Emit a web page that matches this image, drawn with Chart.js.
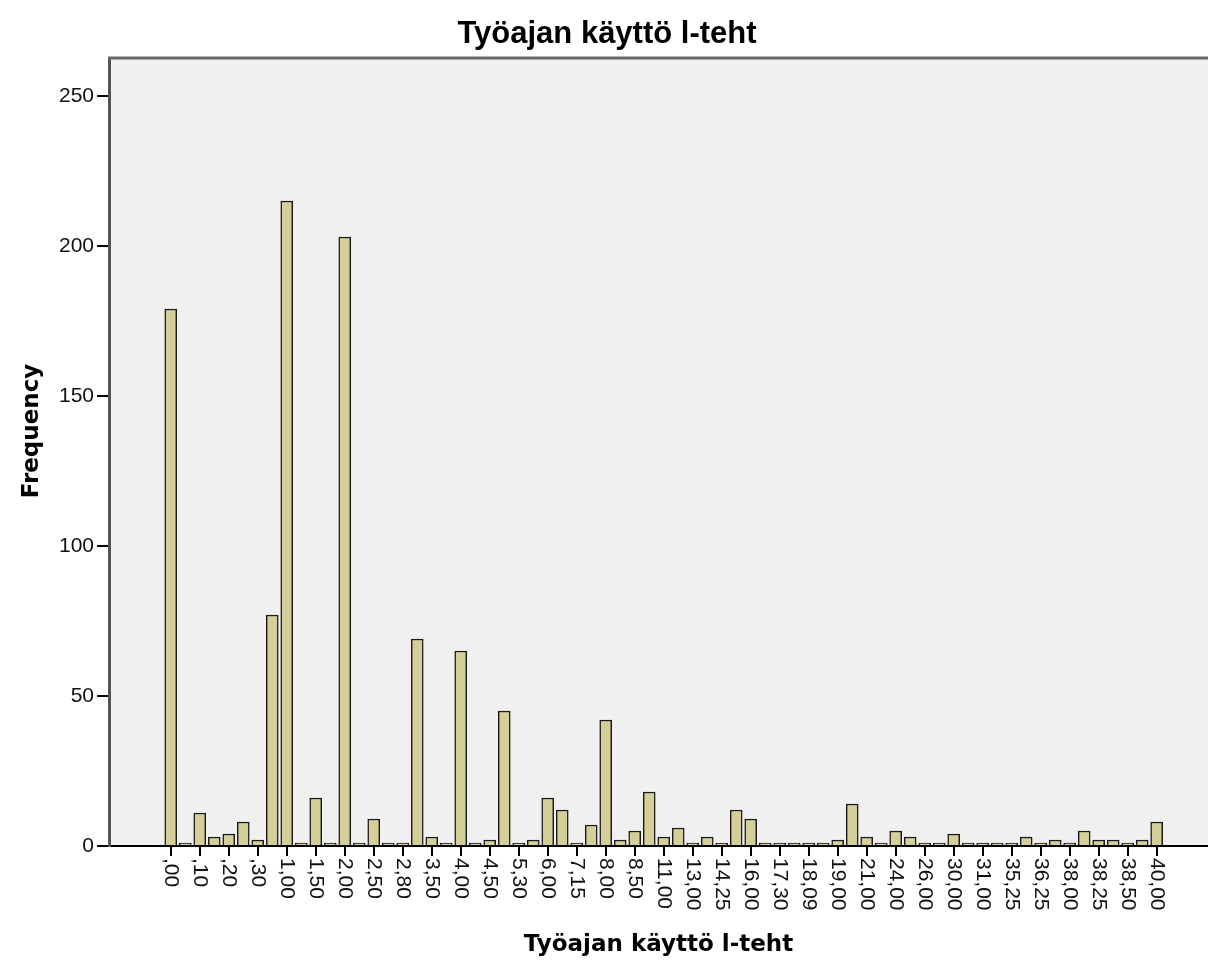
<!DOCTYPE html>
<html lang="fi">
<head>
<meta charset="utf-8">
<script src="https://cdn.jsdelivr.net/npm/chart.js"></script>
<style>
  body { margin: 0; background: #fff; }
  #wrap { width: 1208px; height: 960px; }
</style>
</head>
<body>
<div id="wrap">
  <canvas id="freqChart" width="1208" height="960"></canvas>
</div>

<script>
    // values, one per bar (every other bar carries a label)
    const frequencies = [179, 1, 11, 3, 4, 8, 2, 77, 215, 1, 16, 1, 203, 1, 9, 1, 1, 69, 3, 1,
      65, 1, 2, 45, 1, 2, 16, 12, 1, 7, 42, 2, 5, 18, 3, 6, 1, 3, 1, 12,
      9, 1, 1, 1, 1, 1, 2, 14, 3, 1, 5, 3, 1, 1, 4, 1, 1, 1, 1, 3,
      1, 2, 1, 5, 2, 2, 1, 2, 8];
    const tickLabels = [',00', ',10', ',20', ',30', '1,00', '1,50', '2,00', '2,50', '2,80', '3,50',
      '4,00', '4,50', '5,30', '6,00', '7,15', '8,00', '8,50', '11,00', '13,00', '14,25',
      '16,00', '17,30', '18,09', '19,00', '21,00', '24,00', '26,00', '30,00', '31,00', '35,25',
      '36,25', '38,00', '38,25', '38,50', '40,00'];
    const yTicks = [0, 50, 100, 150, 200, 250];
    const titleText = 'Työajan käyttö l-teht';
    const xTitle = 'Työajan käyttö l-teht';
    const yTitle = 'Frequency';

    const ctx = document.getElementById('freqChart');

    const spssLook = {
      id: 'spssLook',
      beforeDraw(chart) {
        const c = chart.ctx, a = chart.chartArea;
        c.save();
        c.fillStyle = '#ffffff';
        c.fillRect(0, 0, chart.width, chart.height);
        c.fillStyle = '#f0f0f0';
        c.fillRect(a.left, a.top, a.right - a.left, a.bottom - a.top);
        c.restore();
      },
      afterDraw(chart) {
        const c = chart.ctx, a = chart.chartArea, xs = chart.scales.x;
        c.save();
        // top frame line
        c.strokeStyle = '#666';
        c.lineWidth = 3;
        c.beginPath();
        c.moveTo(a.left - 1, a.top);
        c.lineTo(a.right, a.top);
        c.stroke();

        // x tick labels, turned clockwise like in SPSS
        c.fillStyle = '#111';
        c.font = '21px "Liberation Sans", Arial, sans-serif';
        c.textAlign = 'left';
        c.textBaseline = 'middle';
        xs.ticks.forEach((t, k) => {
          const px = xs.getPixelForValue(t.value);
          c.save();
          c.translate(px, a.bottom + 12);
          c.rotate(Math.PI / 2);
          c.fillText(tickLabels[k], 0, 0);
          c.restore();
        });

        // titles
        c.fillStyle = '#000';
        c.textAlign = 'center';
        c.textBaseline = 'alphabetic';
        c.font = 'bold 31px "Liberation Sans", Arial, sans-serif';
        c.fillText(titleText, 607, 43);

        c.font = 'bold 23px "DejaVu Sans", Verdana, sans-serif';
        c.fillText(xTitle, (a.left + a.right) / 2, 951);

        c.save();
        c.translate(38, 431);
        c.rotate(-Math.PI / 2);
        c.fillText(yTitle, 0, 0);
        c.restore();
        c.restore();
      }
    };

    const chart = new Chart(ctx, {
      type: 'bar',
      data: {
        datasets: [{
          label: yTitle,
          data: frequencies.map((v, i) => ({ x: i, y: v })),
          backgroundColor: '#d4cf98',
          borderColor: '#1a1a1a',
          borderWidth: 1.5,
          barThickness: 12
        }]
      },
      options: {
        responsive: false,
        animation: false,
        devicePixelRatio: 1,
        layout: { padding: { top: 58, right: 0, bottom: 0, left: 0 } },
        plugins: {
          legend: { display: false },
          tooltip: { enabled: false },
          title: { display: false }
        },
        scales: {
          x: {
            type: 'linear',
            min: -4.26,
            max: 71.54,
            offset: false,
            afterBuildTicks: s => { s.ticks = tickLabels.map((_, k) => ({ value: k * 2 })); },
            afterFit: s => { s.height = 114; },
            ticks: {
              autoSkip: false,
              minRotation: 90,
              maxRotation: 90,
              color: 'rgba(0,0,0,0)',
              font: { family: '"Liberation Sans", Arial', size: 21 },
              callback: (v, i) => tickLabels[i]
            },
            grid: { offset: false, drawOnChartArea: false, color: '#000', lineWidth: 2, tickLength: 10 },
            border: { color: '#000', width: 2 }
          },
          y: {
            min: 0,
            max: 262.67,
            afterBuildTicks: s => { s.ticks = yTicks.map(v => ({ value: v })); },
            afterFit: s => { s.width = 109; },
            ticks: {
              color: '#111',
              padding: 3,
              font: { family: '"Liberation Sans", Arial', size: 21 }
            },
            grid: { drawOnChartArea: false, color: '#000', lineWidth: 2, tickLength: 12 },
            border: { color: '#555', width: 3 }
          }
        }
      },
      plugins: [spssLook]
    });
</script>
</body>
</html>
